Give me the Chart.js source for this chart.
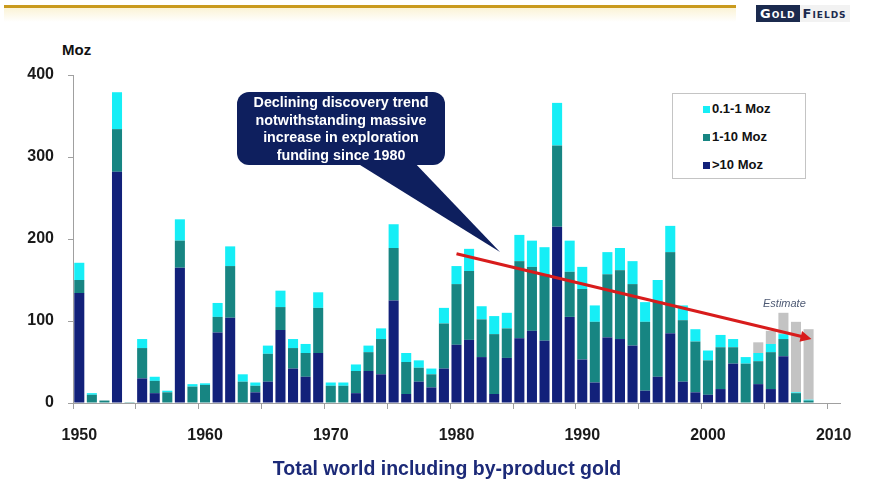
<!DOCTYPE html>
<html>
<head>
<meta charset="utf-8">
<script src="https://cdn.jsdelivr.net/npm/chart.js@4.4.1/dist/chart.umd.min.js"></script>
<style>
  html, body { margin: 0; padding: 0; background: #fff; }
  body { width: 879px; height: 482px; position: relative; overflow: hidden; font-family: "Liberation Sans", Arial, sans-serif; }
  #wrap { position: absolute; left: 0; top: 0; width: 879px; height: 482px; }
  .goldbar { position: absolute; left: 4px; top: 5px; width: 732px; height: 3px; background: #c99a1e; }
  .goldglow { position: absolute; left: 4px; top: 8px; width: 732px; height: 14px; background: linear-gradient(#fbf3d6, #ffffff); }
  .logo { position: absolute; left: 756px; top: 5px; height: 17px; font: bold 13px "DejaVu Sans", sans-serif; font-variant: small-caps; letter-spacing: 1px; }
  .logo .g { display: inline-block; background: #1b2a4e; color: #fff; padding: 0 4px; height: 17px; line-height: 17px; }
  .logo .f { display: inline-block; color: #1b2a4e; padding: 0 3px; background: #f2f2f2; height: 17px; line-height: 17px; }
  .moz { position: absolute; left: 62px; top: 41px; font: bold 15px "Liberation Sans", Arial, sans-serif; color: #111; }
  .title { position: absolute; left: 0; width: 894px; top: 457px; text-align: center; font: bold 19.5px "Liberation Sans", Arial, sans-serif; color: #1c2a78; }
  .callout { position: absolute; left: 237px; top: 94px; width: 208px; text-align: center; color: #fff; font: bold 14.3px "Liberation Sans", Arial, sans-serif; line-height: 17.5px; }
  .legend { position: absolute; left: 672px; top: 93px; width: 132px; height: 84px; border: 1px solid #c4c4c4; background: #fff; }
  .legend div { position: absolute; left: 30px; font: bold 13px "Liberation Sans", Arial, sans-serif; color: #111; }
  .legend span { display: inline-block; width: 7px; height: 7px; margin-right: 2px; }
  .estimate { position: absolute; left: 763px; top: 297px; font: italic 11px "Liberation Sans", Arial, sans-serif; color: #4e5a74; }
</style>
</head>
<body>
<div class="goldglow"></div>
<div class="goldbar"></div>
<div class="logo"><span class="g">Gold</span><span class="f">Fields</span></div>
<div class="moz">Moz</div>
<div id="wrap"><canvas id="grafico"></canvas></div>
<div class="callout">Declining discovery trend<br>notwithstanding massive<br>increase in exploration<br>funding since 1980</div>
<div class="legend" id="legenda"></div>
<div class="estimate">Estimate</div>
<div class="title">Total world including by-product gold</div>
<script>
// anos do eixo (1950-2010)
const anos = [];
for (let a = 1950; a <= 2010; a++) anos.push(String(a));

// descobertas por tamanho, 1950-2008 (Moz)
const acima10 = [134, 0, 0, 282, 0, 30, 12, 0, 165, 0,
  0, 86, 104, 0, 13, 26, 89, 42, 32, 61,
  0, 0, 12, 39, 35, 125, 11, 26, 19, 42,
  71, 77, 56, 11, 55, 79, 88, 76, 215, 105,
  53, 25, 80, 78, 70, 15, 32, 85, 26, 13,
  10, 17, 48, 0, 23, 17, 57, 0, 0];
const de1a10 = [16, 10, 3, 52, 1, 37, 15, 13, 33, 20,
  22, 19, 63, 26, 8, 34, 28, 25, 29, 55,
  21, 21, 27, 23, 43, 64, 39, 17, 16, 55,
  74, 84, 46, 73, 36, 94, 78, 81, 99, 55,
  86, 74, 77, 84, 75, 84, 92, 99, 75, 62,
  42, 51, 20, 48, 28, 45, 21, 12, 3];
const de01a1 = [21, 2, 0, 45, 0, 11, 5, 2, 26, 3,
  2, 17, 24, 9, 4, 10, 20, 11, 11, 19,
  4, 4, 8, 8, 13, 29, 11, 9, 7, 19,
  22, 27, 16, 22, 19, 32, 32, 33, 52, 38,
  27, 20, 27, 27, 28, 24, 26, 32, 18, 15,
  12, 15, 10, 8, 10, 10, 6, 1, 1];
const estimativa = [0, 0, 0, 0, 0, 0, 0, 0, 0, 0,
  0, 0, 0, 0, 0, 0, 0, 0, 0, 0,
  0, 0, 0, 0, 0, 0, 0, 0, 0, 0,
  0, 0, 0, 0, 0, 0, 0, 0, 0, 0,
  0, 0, 0, 0, 0, 0, 0, 0, 0, 0,
  0, 0, 0, 0, 13, 16, 26, 86, 86];

// linha de tendencia (seta vermelha)
const tendAnos = ['1980', '2008'];
const tendValores = [182, 79];

const cores = { acima10: '#12217a', de1a10: '#178582', de01a1: '#16eef6', est: '#c3c3c3' };

// legenda em html
const itensLegenda = [['0.1-1 Moz', cores.de01a1], ['1-10 Moz', cores.de1a10], ['>10 Moz', cores.acima10]];
const leg = document.getElementById('legenda');
itensLegenda.forEach(function (it, i) {
  const d = document.createElement('div');
  d.style.top = (7 + i * 28) + 'px';
  d.innerHTML = '<span style="background:' + it[1] + '"></span>' + it[0].replace('>', '&gt;');
  leg.appendChild(d);
});

const balao = {
  id: 'balao',
  afterDraw(chart) {
    const ctx = chart.ctx;
    ctx.save();
    ctx.fillStyle = '#0e1f5e';
    ctx.beginPath();
    ctx.roundRect(237, 92, 208, 73, 12);
    ctx.fill();
    ctx.beginPath();
    ctx.moveTo(352, 160);
    ctx.lineTo(500, 252);
    ctx.lineTo(412, 160);
    ctx.closePath();
    ctx.fill();
    ctx.restore();
  }
};

const seta = {
  id: 'seta',
  afterDatasetsDraw(chart) {
    const x = chart.scales.x, y = chart.scales.y, ctx = chart.ctx;
    const x1 = x.getPixelForValue(anos.indexOf(tendAnos[0]));
    const x2 = x.getPixelForValue(anos.indexOf(tendAnos[1]));
    const y1 = y.getPixelForValue(tendValores[0]);
    const y2 = y.getPixelForValue(tendValores[1]);
    const ang = Math.atan2(y2 - y1, x2 - x1);
    ctx.save();
    ctx.strokeStyle = '#d81c1c';
    ctx.fillStyle = '#d81c1c';
    ctx.lineWidth = 3;
    ctx.beginPath();
    ctx.moveTo(x1, y1);
    ctx.lineTo(x2 - 6 * Math.cos(ang), y2 - 6 * Math.sin(ang));
    ctx.stroke();
    ctx.translate(x2, y2);
    ctx.rotate(ang);
    ctx.beginPath();
    ctx.moveTo(3, 0);
    ctx.lineTo(-8, -5.5);
    ctx.lineTo(-8, 5.5);
    ctx.closePath();
    ctx.fill();
    ctx.restore();
  }
};

const fonteEixo = { family: '"Liberation Sans", Arial, sans-serif', size: 16, weight: 'bold' };

new Chart(document.getElementById('grafico'), {
  type: 'bar',
  data: {
    labels: anos,
    datasets: [
      { label: '>10 Moz', data: acima10, backgroundColor: cores.acima10 },
      { label: '1-10 Moz', data: de1a10, backgroundColor: cores.de1a10 },
      { label: '0.1-1 Moz', data: de01a1, backgroundColor: cores.de01a1 },
      { label: 'Estimate', data: estimativa, backgroundColor: cores.est }
    ]
  },
  options: {
    responsive: true,
    maintainAspectRatio: false,
    animation: false,
    layout: { padding: { top: 75, right: 39, left: 0, bottom: 0 } },
    datasets: { bar: { categoryPercentage: 1, barPercentage: 0.8 } },
    plugins: { legend: { display: false }, tooltip: { enabled: false } },
    scales: {
      x: {
        stacked: true,
        afterFit(scale) { scale.height = 79; },
        border: { color: '#a0a0a0' },
        grid: {
          offset: true,
          drawOnChartArea: false,
          tickLength: 6,
          color: function (c) { return (c.index % 5 === 0) ? '#a0a0a0' : 'rgba(0,0,0,0)'; }
        },
        ticks: {
          autoSkip: false,
          maxRotation: 0,
          padding: 17,
          color: '#1a1a1a',
          font: fonteEixo,
          callback: function (v, i) { return (Number(anos[i]) % 10 === 0) ? anos[i] : ''; }
        }
      },
      y: {
        stacked: true,
        min: 0,
        max: 400,
        afterFit(scale) { scale.width = 73; },
        border: { color: '#a0a0a0' },
        grid: { drawOnChartArea: false, tickLength: 5, color: '#a0a0a0' },
        ticks: { stepSize: 100, padding: 14, color: '#1a1a1a', font: fonteEixo }
      }
    }
  },
  plugins: [balao, seta]
});
</script>
</body>
</html>
